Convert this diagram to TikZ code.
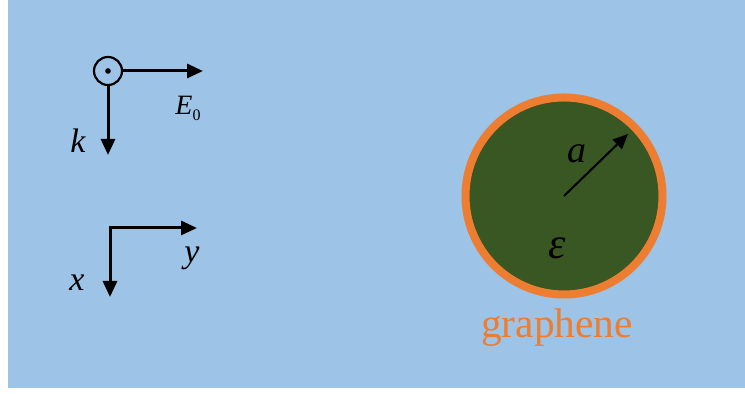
\documentclass[tikz,border=0pt]{standalone}
\usepackage{fontspec}
\setmainfont{Liberation Serif}
\usetikzlibrary{arrows.meta, positioning}
\definecolor{bgblue}{RGB}{157,195,230}
\definecolor{coregreen}{RGB}{56,87,35}
\definecolor{shellorange}{RGB}{237,125,49}
\tikzset{
	vecarrow/.style={line width=1.5pt, -{Triangle[length=8pt,width=7pt]}}
}
\tikzset{
	axislabel/.style={inner sep=0pt, font=\fontsize{17}{17}\selectfont\itshape}
}
\newcommand{\lowidx}[1]{\raisebox{-3pt}{\fontsize{8}{8}\selectfont\upshape #1}}

\begin{document}
\begin{tikzpicture}[x=0.5pt, y=0.5pt]
  \useasboundingbox (0,0) rectangle (745,394);
  \fill[bgblue] (8,6) rectangle (745,394);
  % incident wave
  \node[circle, draw, line width=1.1pt, minimum size=14pt, inner sep=0pt] (kin) at (108,323) {};
  \fill (kin.center) circle[radius=2.8];
  \coordinate (Etip) at (203,323);
  \coordinate (ktip) at (108,239);
  \draw[vecarrow] (kin.east) -- (Etip);
  \draw[vecarrow] (kin.south) -- (ktip);
  \node[axislabel] (klab) at (78,253) {k};
  \node[inner sep=0pt, font=\fontsize{14}{14}\selectfont\itshape] (Elab) at (188,286) {E\lowidx{0}};
  % axes
  \coordinate (orig) at (110,166);
  \coordinate (ytip) at (197,166);
  \coordinate (xtip) at (110,97);
  \draw[vecarrow, {Triangle[length=8pt,width=7pt]}-{Triangle[length=8pt,width=7pt]}] (ytip) -- (orig) -- (xtip);
  \node[axislabel] (ylab) at (192,136) {y};
  \node[axislabel] (xlab) at (77,111) {x};
  % sphere
  \node[circle, fill=coregreen, draw=shellorange, line width=4pt, minimum size=98.5pt, inner sep=0pt] (sphere) at (564,198) {};
  \coordinate (rtip) at (628,260);
  \draw[vecarrow, line width=1pt, -{Triangle[length=7.5pt,width=6.5pt]}] (sphere.center) -- (rtip);
  \node[axislabel, font=\fontsize{19}{19}\selectfont\itshape] (alab) at (577,240) {a};
  \node[axislabel, font=\fontsize{22}{22}\selectfont\itshape] (eps) at (557,146) {ε};
  \node[inner sep=0pt, text=shellorange, font=\fontsize{20.7}{20.7}\selectfont] (glab) at (557,66) {graphene};
\end{tikzpicture}
\end{document}
